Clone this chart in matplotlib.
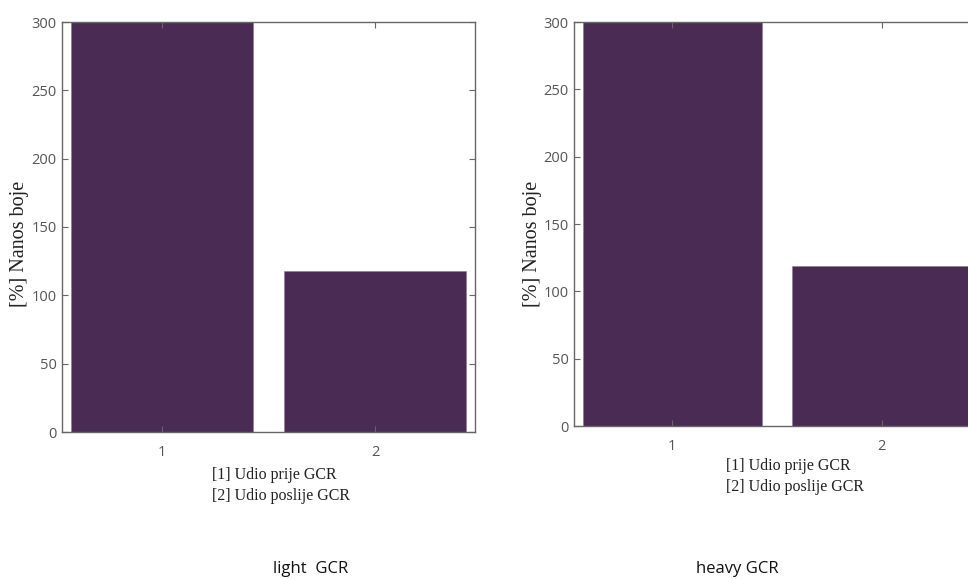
import matplotlib
matplotlib.use("Agg")
import matplotlib.pyplot as plt

# data (bar 1 is clipped at the top of the axes)
categories = [1, 2]
light_vals = [300, 118]
heavy_vals = [300, 119]
panel_titles = ["light  GCR", "heavy GCR"]
yticks = [0, 50, 100, 150, 200, 250, 300]
ylabel = "[%] Nanos boje"
xlabel_lines = ["[1] Udio prije GCR", "[2] Udio poslije GCR"]

BAR = "#4a2b54"
GRAY = "#666666"
SANS = "Open Sans"
SERIF = "Liberation Serif"
BAR_W = 0.855
MARGIN = 0.042

W, H = 968, 579
fig = plt.figure(figsize=(W / 100, H / 100), dpi=100)


def px_axes(x0, y0, x1, y1):
    return fig.add_axes([x0 / W, 1 - y1 / H, (x1 - x0) / W, (y1 - y0) / H])


def draw_panel(ax, vals):
    ax.bar(categories, vals, width=BAR_W, color=BAR, edgecolor="#8a7a90", linewidth=0.4)
    ax.set_xlim(1 - BAR_W / 2 - MARGIN, 2 + BAR_W / 2 + MARGIN)
    ax.set_ylim(0, 300)
    ax.set_xticks(categories)
    ax.set_yticks(yticks)
    ax.tick_params(direction="in", top=True, right=True, length=4, width=0.8,
                   colors=GRAY, labelsize=10.5, labelcolor="#555555")
    ax.tick_params(axis="x", pad=9)
    ax.tick_params(axis="y", pad=4)
    for lab in ax.get_xticklabels() + ax.get_yticklabels():
        lab.set_family(SANS)
    for sp in ax.spines.values():
        sp.set_color(GRAY)
        sp.set_linewidth(1.0)


ax1 = px_axes(62, 22, 475, 432)
draw_panel(ax1, light_vals)
ax2 = px_axes(574, 22, 980, 426)
draw_panel(ax2, heavy_vals)

# y labels
fig.text(20 / W, 1 - 244 / H, ylabel, rotation=90, ha="center", va="center",
         family=SERIF, fontsize=14.5, color="#222222")
fig.text(532 / W, 1 - 244 / H, ylabel, rotation=90, ha="center", va="center",
         family=SERIF, fontsize=14.5, color="#222222")

# category legend under each axis
fig.text(212 / W, 1 - 467 / H, "\n".join(xlabel_lines), ha="left", va="top",
         family=SERIF, fontsize=11.5, color="#222222", linespacing=1.45)
fig.text(726 / W, 1 - 458 / H, "\n".join(xlabel_lines), ha="left", va="top",
         family=SERIF, fontsize=11.5, color="#222222", linespacing=1.4)

# panel captions at the bottom
fig.text(311 / W, 1 - 569 / H, panel_titles[0], ha="center", va="center",
         family=SANS, fontsize=12, color="#111111")
fig.text(737 / W, 1 - 569 / H, panel_titles[1], ha="center", va="center",
         family=SANS, fontsize=12, color="#111111")

fig.savefig("out.png", dpi=100)
